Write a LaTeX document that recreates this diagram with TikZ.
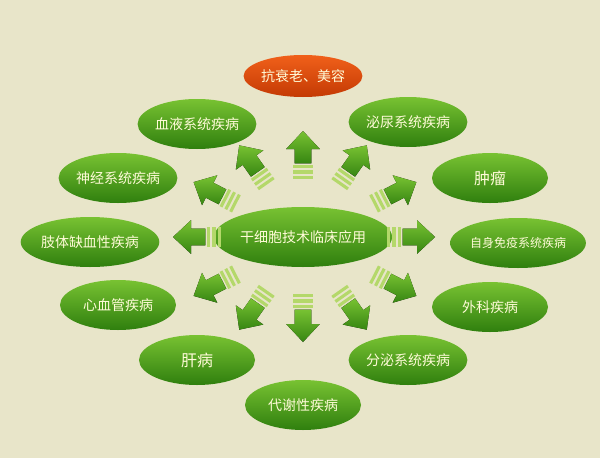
\documentclass[tikz,border=0pt]{standalone}
\usepackage{fontspec}
\setmainfont{Noto Sans CJK SC}
\usetikzlibrary{shapes.geometric}
\definecolor{bg}{HTML}{E8E5C9}
\definecolor{gtop}{HTML}{78C232}
\definecolor{gbot}{HTML}{2F7F0E}
\definecolor{otop}{HTML}{F0601A}
\definecolor{obot}{HTML}{C43A04}
\definecolor{txt}{HTML}{FFFBD8}
\definecolor{stripe}{HTML}{B4D86A}
\tikzset{
  oval/.style={ellipse, minimum width=116pt, minimum height=50pt, inner sep=0pt,
    top color=gtop, bottom color=gbot, draw=none, text=txt, font=\fontsize{14}{14}\selectfont},
  hot/.style={oval, top color=otop, bottom color=obot, minimum height=42pt, minimum width=118pt},
  arrowbody/.style={top color=gtop, bottom color=gbot!90!gtop, draw=none}
}
\begin{document}
\begin{tikzpicture}[x=1pt,y=-1pt]
\fill[bg] (0,0) rectangle (600,458);
\useasboundingbox (0,0) rectangle (600,458);
\node[oval, minimum width=150pt, minimum height=60pt] (c) at (303,237) {干细胞技术临床应用};
\node[hot] (n0) at (303,76) {抗衰老、美容};
\node[oval] (n1) at (197,124) {血液系统疾病};
\node[oval] (n2) at (408,122) {泌尿系统疾病};
\node[oval] (n3) at (118,178) {神经系统疾病};
\node[oval, font=\fontsize{16}{16}\selectfont] (n4) at (490,178) {肿瘤};
\node[oval, minimum width=122pt] (n5) at (90,242) {肢体缺血性疾病};
\node[oval, font=\fontsize{12}{12}\selectfont, minimum width=120pt] (n6) at (518,243) {自身免疫系统疾病};
\node[oval] (n7) at (118,305) {心血管疾病};
\node[oval] (n8) at (490,307) {外科疾病};
\node[oval, font=\fontsize{16}{16}\selectfont] (n9) at (197,360) {肝病};
\node[oval] (n10) at (408,360) {分泌系统疾病};
\node[oval] (n11) at (303,405) {代谢性疾病};
\foreach \x/\y/\a in {303/155/90, 253/165/125, 215/193/153, 197/237/180, 215/285/207, 253/310/235,
                      303/318/270, 353/310/305, 395/285/333, 411/237/0, 395/193/27, 353/165/55}{
  \begin{scope}[shift={(\x,\y)}, rotate=\a, scale=1.2]
    \foreach \s in {-20,-15.5,-11}{\fill[stripe] (\s,-8) rectangle (\s+2.6,8);}
    \fill[arrowbody] (-7,-7) -- (5,-7) -- (5,-14) -- (20,0) -- (5,14) -- (5,7) -- (-7,7) -- cycle;
  \end{scope}
}
\end{tikzpicture}
\end{document}
